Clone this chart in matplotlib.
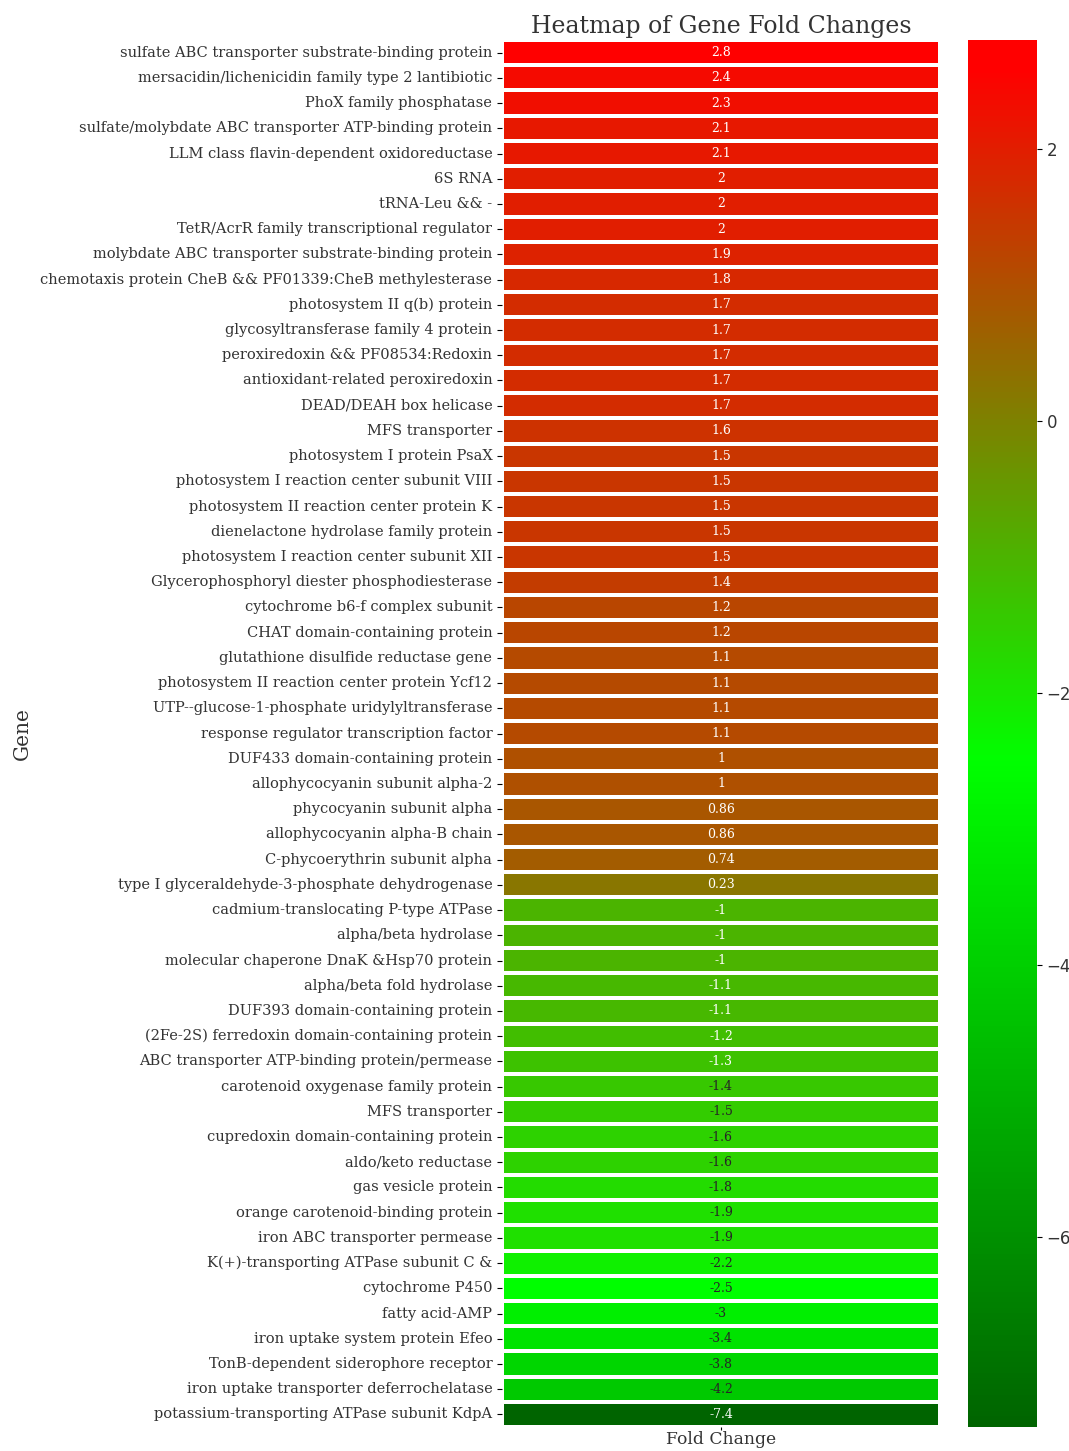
import matplotlib
matplotlib.use('Agg')
from matplotlib import pyplot as plt
from matplotlib.colors import LinearSegmentedColormap
import numpy as np
import seaborn as sns

genes = [
    "sulfate ABC transporter substrate-binding protein",
    "mersacidin/lichenicidin family type 2 lantibiotic",
    "PhoX family phosphatase",
    "sulfate/molybdate ABC transporter ATP-binding protein",
    "LLM class flavin-dependent oxidoreductase",
    "6S RNA",
    "tRNA-Leu && -",
    "TetR/AcrR family transcriptional regulator",
    "molybdate ABC transporter substrate-binding protein",
    "chemotaxis protein CheB && PF01339:CheB methylesterase",
    "photosystem II q(b) protein",
    "glycosyltransferase family 4 protein",
    "peroxiredoxin && PF08534:Redoxin",
    "antioxidant-related peroxiredoxin",
    "DEAD/DEAH box helicase",
    "MFS transporter",
    "photosystem I protein PsaX",
    "photosystem I reaction center subunit VIII",
    "photosystem II reaction center protein K",
    "dienelactone hydrolase family protein",
    "photosystem I reaction center subunit XII",
    "Glycerophosphoryl diester phosphodiesterase",
    "cytochrome b6-f complex subunit",
    "CHAT domain-containing protein",
    "glutathione disulfide reductase gene",
    "photosystem II reaction center protein Ycf12",
    "UTP--glucose-1-phosphate uridylyltransferase",
    "response regulator transcription factor",
    "DUF433 domain-containing protein",
    "allophycocyanin subunit alpha-2",
    "phycocyanin subunit alpha",
    "allophycocyanin alpha-B chain",
    "C-phycoerythrin subunit alpha",
    "type I glyceraldehyde-3-phosphate dehydrogenase",
    "cadmium-translocating P-type ATPase",
    "alpha/beta hydrolase",
    "molecular chaperone DnaK &Hsp70 protein",
    "alpha/beta fold hydrolase",
    "DUF393 domain-containing protein",
    "(2Fe-2S) ferredoxin domain-containing protein",
    "ABC transporter ATP-binding protein/permease",
    "carotenoid oxygenase family protein",
    "MFS transporter",
    "cupredoxin domain-containing protein",
    "aldo/keto reductase",
    "gas vesicle protein",
    "orange carotenoid-binding protein",
    "iron ABC transporter permease",
    "K(+)-transporting ATPase subunit C &",
    "cytochrome P450",
    "fatty acid-AMP",
    "iron uptake system protein Efeo",
    "TonB-dependent siderophore receptor",
    "iron uptake transporter deferrochelatase",
    "potassium-transporting ATPase subunit KdpA",
]

fold_change = [
    2.8, 2.4, 2.3, 2.1, 2.1, 2.0, 2.0, 2.0, 1.9, 1.8,
    1.7, 1.7, 1.7, 1.7, 1.7, 1.6, 1.5, 1.5, 1.5, 1.5,
    1.5, 1.4, 1.2, 1.2, 1.1, 1.1, 1.1, 1.1, 1.0, 1.0,
    0.86, 0.86, 0.74, 0.23, -1.0, -1.0, -1.0, -1.1, -1.1, -1.2,
    -1.3, -1.4, -1.5, -1.6, -1.6, -1.8, -1.9, -1.9, -2.2, -2.5,
    -3.0, -3.4, -3.8, -4.2, -7.4,
]

col_label = ["Fold Change"]

# green -> lime -> red, lime sits near -2.5, full red just under the top
cmap = LinearSegmentedColormap.from_list(
    "gr", [(0.0, "darkgreen"), (0.48, "lime"), (0.98, "red"), (1.0, "red")])

fig = plt.figure(figsize=(10.69, 14.51), dpi=100)
ax = fig.add_axes([0.4696, 0.0165, 0.4097, 0.9559])
cax = fig.add_axes([0.9055, 0.0165, 0.0645, 0.9559])

data = np.array(fold_change).reshape(-1, 1)
sns.heatmap(data, ax=ax, cbar_ax=cax, cmap=cmap, annot=True, fmt='.2g',
            linewidths=1.5, linecolor='white',
            xticklabels=col_label, yticklabels=genes,
            annot_kws={'fontsize': 9, 'family': 'DejaVu Serif'})

txt_color = '#333333'
ax.set_title("Heatmap of Gene Fold Changes", fontsize=17, family='DejaVu Serif',
             color=txt_color, pad=5)
ax.set_ylabel("Gene", fontsize=14.5, family='DejaVu Serif', color=txt_color, labelpad=6)
for lbl in ax.get_yticklabels():
    lbl.set_family('DejaVu Serif')
    lbl.set_fontsize(10.5)
    lbl.set_color(txt_color)
    lbl.set_rotation(0)
for lbl in ax.get_xticklabels():
    lbl.set_family('DejaVu Serif')
    lbl.set_fontsize(12.3)
    lbl.set_color(txt_color)
ax.tick_params(axis='x', pad=0.5, length=2.5)

cax.tick_params(labelsize=12, labelcolor=txt_color)

fig.savefig("out.png", dpi=100)
